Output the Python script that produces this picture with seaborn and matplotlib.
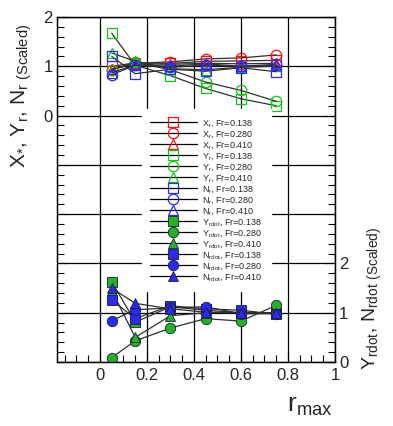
import matplotlib
matplotlib.use('Agg')
import matplotlib.pyplot as plt
import seaborn as sns
import numpy as np
from matplotlib.ticker import MultipleLocator

# r_max values
r_max = [0.05, 0.15, 0.30, 0.45, 0.60, 0.75]
fr_labels = ['0.138', '0.280', '0.410']

# upper group, left axis (scaled)
xr = [[1.00, 1.07, 1.06, 1.10, 1.11, 1.12],
      [0.93, 1.06, 1.09, 1.15, 1.17, 1.23],
      [0.95, 1.05, 1.04, 1.06, 1.05, 1.06]]
yr = [[1.67, 1.02, 0.81, 0.55, 0.34, 0.20],
      [0.93, 1.08, 0.93, 0.68, 0.51, 0.29],
      [1.27, 1.10, 0.95, 0.93, 0.98, 1.00]]
nr = [[1.20, 0.85, 0.94, 0.90, 0.97, 0.89],
      [0.83, 1.02, 0.98, 1.02, 1.00, 1.04],
      [0.87, 1.03, 1.00, 1.05, 1.00, 1.02]]

# lower group, right axis (scaled)
yrdot = [[1.63, 0.81, 1.12, 1.05, 1.00, 1.00],
         [0.09, 0.43, 0.69, 0.88, 0.83, 1.15],
         [1.45, 0.50, 0.94, 1.00, 1.00, 1.00]]
nrdot = [[1.26, 0.88, 1.14, 1.08, 1.05, 0.97],
         [0.84, 1.06, 1.10, 1.12, 0.98, 0.98],
         [1.50, 1.19, 1.08, 1.01, 1.00, 1.00]]

sns.set_style('white')
plt.rcParams['font.family'] = ['Liberation Sans', 'DejaVu Sans']
plt.rcParams['mathtext.default'] = 'regular'

RED, GREEN, BLUE = '#ff1010', '#10c810', '#2828ff'
GREEN_F, BLUE_F = '#22b422', '#2a2af0'
markers = ['s', 'o', '^']
msizes = [7, 7.5, 7.5]
line_c = '#303030'

fig = plt.figure(figsize=(3.93, 4.26), dpi=100)
ax = fig.add_axes([0.145, 0.1502, 0.7074, 0.8099])
ax2 = ax.twinx()

handles = []
for name, group, col in [('X', xr, RED), ('Y', yr, GREEN), ('N', nr, BLUE)]:
    for i, vals in enumerate(group):
        sns.lineplot(x=r_max, y=vals, ax=ax, color=line_c, lw=0.9,
                     marker=markers[i], markersize=msizes[i],
                     markerfacecolor='none', markeredgecolor=col,
                     markeredgewidth=0.9, label='_nolegend_')
        handles.append((ax.lines[-1], name + r'$_r$, Fr=' + fr_labels[i]))

for name, group, col in [('Y', yrdot, GREEN_F), ('N', nrdot, BLUE_F)]:
    for i, vals in enumerate(group):
        sns.lineplot(x=r_max, y=vals, ax=ax2, color=line_c, lw=0.9,
                     marker=markers[i], markersize=msizes[i],
                     markerfacecolor=col, markeredgecolor='#1a1a40',
                     markeredgewidth=0.6, label='_nolegend_')
        handles.append((ax2.lines[-1], name + r'$_{rdot}$, Fr=' + fr_labels[i]))

for a in (ax, ax2):
    if a.get_legend() is not None:
        a.get_legend().remove()

ax.set_xlim(-0.183, 1.0)
ax.set_ylim(-5, 2)
ax2.set_ylim(0, 7)

ax.set_xticks(np.arange(0, 1.01, 0.2))
ax.set_xticklabels(['0', '0.2', '0.4', '0.6', '0.8', '1'])
ax.xaxis.set_minor_locator(MultipleLocator(0.05))
ax.set_yticks(range(-5, 3))
ax.set_yticklabels(['', '', '', '', '', '0', '1', '2'])
ax.yaxis.set_minor_locator(MultipleLocator(0.2))
ax2.set_yticks(range(0, 8))
ax2.set_yticklabels(['0', '1', '2', '', '', '', '', ''])
ax2.yaxis.set_minor_locator(MultipleLocator(0.2))

ax.tick_params(axis='x', which='both', direction='in', top=False, bottom=True,
               labelsize=12, pad=4, width=0.8, color='black')
ax.tick_params(axis='x', which='major', length=8)
ax.tick_params(axis='x', which='minor', length=5)
ax.tick_params(axis='y', which='both', direction='in', left=True, right=False,
               labelsize=12, pad=3, width=0.8, color='black')
ax.tick_params(axis='y', which='major', length=8)
ax.tick_params(axis='y', which='minor', length=5)
ax2.tick_params(axis='y', which='both', direction='in', right=True, left=False,
                labelsize=12, pad=3, width=0.8, color='black')
ax2.tick_params(axis='y', which='major', length=8)
ax2.tick_params(axis='y', which='minor', length=5)

ax.grid(True, which='major', color='black', lw=0.9)
ax.set_axisbelow(True)
for a in (ax, ax2):
    for s in a.spines.values():
        s.set_color('black')
        s.set_linewidth(0.9)

ax.set_xlabel(r'r$_{max}$', fontsize=19, ha='left', va='baseline')
ax.xaxis.set_label_coords(0.827, -0.145)
ax.set_ylabel(r'X$_{*}$, Y$_{r}$, N$_{r}$$_{\ (Scaled)}$', fontsize=15,
              ha='left', va='bottom')
ax.yaxis.set_label_coords(-0.083, 0.562)
ax2.set_ylabel(r'Y$_{rdot}$, N$_{rdot}$$_{\ (Scaled)}$', fontsize=14,
               rotation=90, ha='left', va='bottom')
ax2.yaxis.set_label_coords(1.176, -0.023)

leg = ax2.legend([h for h, _ in handles], [l for _, l in handles],
                 loc='upper left', bbox_to_anchor=(0.288, 0.745),
                 fontsize=6.5, handlelength=5.2, handletextpad=0.6,
                 labelspacing=0.0, borderpad=0.9, frameon=True,
                 fancybox=False, framealpha=1)
leg.get_frame().set_facecolor('white')
leg.get_frame().set_edgecolor('white')
for h in leg.legend_handles:
    h.set_color('black')

fig.savefig('out.png', dpi=100)
